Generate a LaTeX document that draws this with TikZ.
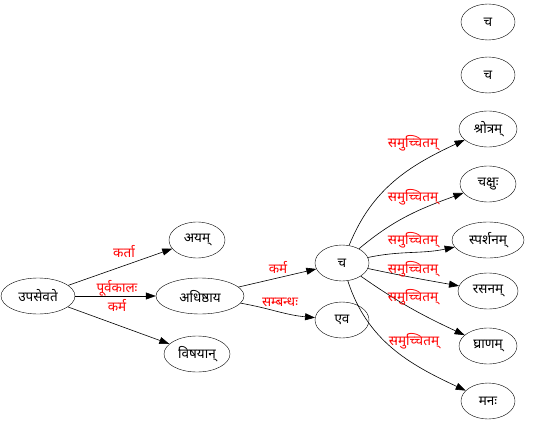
\documentclass[tikz,border=0pt]{standalone}
\usepackage{fontspec}
\setmainfont{Liberation Serif}
\newfontfamily\deva[Script=Devanagari]{Noto Sans}
\usetikzlibrary{arrows.meta,shapes.geometric}
\tikzset{
  wnode/.style={draw, ellipse, minimum height=36pt, inner sep=0pt, font=\deva\fontsize{13.5}{15}\selectfont, text=black},
  elab/.style={font=\deva\fontsize{13.5}{15}\selectfont, text=red, inner sep=0pt},
  edge/.style={draw, -{Triangle[length=10pt,width=7pt]}, line width=0.6pt},
}
\begin{document}
\begin{tikzpicture}[x=1pt,y=-1pt]
\useasboundingbox (0,0) rectangle (535,422);
\node[wnode, minimum width=74pt] (upa) at (38,296) {उपसेवते};
\node[wnode, minimum width=56pt] (ayam) at (197,240) {अयम्};
\node[wnode, minimum width=88pt] (adhi) at (200,296) {अधिष्ठाय};
\node[wnode, minimum width=66pt] (visa) at (197,354) {विषयान्};
\node[wnode, minimum width=54pt] (ca) at (342,263) {च};
\node[wnode, minimum width=54pt] (eva) at (342,320) {एव};
\node[wnode, minimum width=54pt] (caA) at (488,22) {च};
\node[wnode, minimum width=54pt] (caB) at (488,75) {च};
\node[wnode, minimum width=58pt] (shro) at (488,129) {श्रोत्रम्};
\node[wnode, minimum width=56pt] (cak) at (488,184) {चक्षुः};
\node[wnode, minimum width=72pt] (spar) at (488,240) {स्पर्शनम्};
\node[wnode, minimum width=60pt] (rasa) at (488,291) {रसनम्};
\node[wnode, minimum width=58pt] (ghra) at (488,346) {घ्राणम्};
\node[wnode, minimum width=54pt] (mana) at (488,401) {मनः};

\draw[edge] (upa) -- (ayam);
\draw[edge] (upa) -- (adhi);
\draw[edge] (upa) -- (visa);
\draw[edge] (adhi) -- (ca);
\draw[edge] (adhi) to[out=-10,in=175] (eva);
\draw[edge] (ca) to[out=68,in=205] (shro);
\draw[edge] (ca) to[out=40,in=200] (cak);
\draw[edge] (ca) to[out=12,in=192] (spar);
\draw[edge] (ca) to[out=-12,in=170] (rasa);
\draw[edge] (ca) to[out=-35,in=155] (ghra);
\draw[edge] (ca) to[out=-72,in=155] (mana);

\node[elab] (l1) at (124,252) {कर्ता};
\node[elab] (l2) at (117,288) {पूर्वकालः};
\node[elab] (l3) at (117,305) {कर्म};
\node[elab] (l4) at (278,267) {कर्म};
\node[elab] (l5) at (280,302) {सम्बन्धः};
\node[elab] (m1) at (413,143) {समुच्चितम्};
\node[elab] (m2) at (413,197) {समुच्चितम्};
\node[elab] (m3) at (413,240) {समुच्चितम्};
\node[elab] (m4) at (413,269) {समुच्चितम्};
\node[elab] (m5) at (413,297) {समुच्चितम्};
\node[elab] (m6) at (414,341) {समुच्चितम्};
\end{tikzpicture}
\end{document}
